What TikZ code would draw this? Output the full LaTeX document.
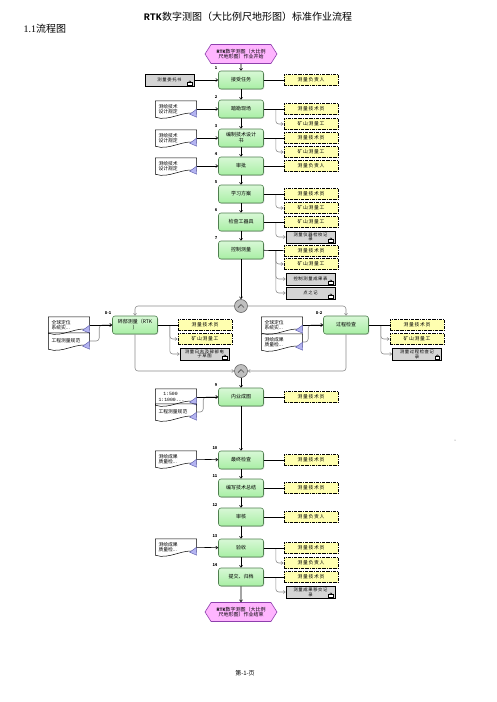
\documentclass[tikz,border=0pt]{standalone}
\usepackage{fontspec}
\setmainfont{Noto Sans CJK SC}
\newfontfamily\monob{Liberation Mono}
\newfontfamily\serifnum{Liberation Serif}
\newfontfamily\cjkwide{Noto Sans CJK SC}[LetterSpace=15]
\usepackage{tikz}
\usetikzlibrary{arrows.meta, positioning, shapes.geometric, shapes.symbols, calc, shadows}

\definecolor{stepfill}{HTML}{A8EFA4}
\definecolor{stepline}{HTML}{4F7F4F}
\definecolor{hexfill}{HTML}{FFB5FF}
\definecolor{hexline}{HTML}{8E3FAD}
\definecolor{rolefill}{HTML}{FFFFB0}
\definecolor{recfill}{HTML}{D4D4D4}
\definecolor{tripfill}{HTML}{B4B4F2}
\definecolor{tripline}{HTML}{5858A8}

\tikzset{
  stepbox/.style={rectangle, rounded corners=2.5pt, draw=stepline, line width=0.6pt,
    top color=stepfill!45, bottom color=stepfill, minimum width=45pt, minimum height=18pt,
    align=center, inner sep=1pt, font=\fontsize{5}{6}\selectfont,
    drop shadow={shadow xshift=0.8pt, shadow yshift=-0.8pt, fill=black!30}},
  rolebox/.style={rectangle, draw=black, fill=rolefill, line width=0.9pt,
    dash pattern=on 3pt off 1pt on 0.6pt off 1pt, minimum width=54pt, minimum height=11pt,
    inner sep=0.5pt, font={\cjkwide\fontsize{4.8}{5.5}\selectfont}},
  recbox/.style={rectangle, draw=black, fill=recfill, line width=0.6pt, minimum width=49pt,
    minimum height=12pt, align=center, inner sep=0.3pt, font={\cjkwide\fontsize{4.3}{4.7}\selectfont},
    drop shadow={shadow xshift=0.8pt, shadow yshift=-0.8pt, fill=black!30}},
  docbox/.style={rectangle, fill=white, minimum width=41pt, minimum height=16pt, text width=35pt,
    align=left, inner sep=1pt, font=\fontsize{4.8}{5.6}\selectfont},
  hexnode/.style={shape=signal, signal to=west and east, signal pointer angle=115, draw=hexline,
    fill=hexfill, line width=0.6pt, minimum width=72pt, minimum height=19pt, align=center,
    inner sep=0.5pt, font=\fontsize{5}{5.8}\selectfont},
  gate/.style={circle, draw=black!60, fill=black!25, line width=0.6pt, minimum size=13pt, inner sep=0pt},
  numlab/.style={font=\bfseries\fontsize{4}{4}\selectfont, inner sep=0.6pt},
  flow/.style={draw=black, line width=0.6pt, -{Straight Barb[length=2pt, width=3pt]}},
  sub/.style={draw=black!45, line width=0.6pt, rounded corners=3pt, -{Straight Barb[length=2pt, width=3pt]}},
  link/.style={draw=black, line width=0.7pt}
}

\begin{document}
\begin{tikzpicture}[x=1pt, y=-1pt]
  \useasboundingbox (0,0) rectangle (496,702);

  % page texts
  \node[font=\fontsize{10}{12}\selectfont] (title) at (248,17) {{\monob\bfseries RTK}数字测图（大比例尺地形图）标准作业流程};
  \node[font=\fontsize{10}{12}\selectfont, anchor=west] (sec) at (20,29) {{\serifnum 1.1}流程图};
  \node[font=\fontsize{6}{7}\selectfont] (foot) at (245,673) {第-1-页};

  % main column
  \node[hexnode] (start) at (241,54) {{\monob\bfseries RTK}数字测图（大比例\\尺地形图）作业开始};
  \node[stepbox, label={[numlab]north west:1}] (s1) at (241,80) {接受任务};
  \node[stepbox, label={[numlab]north west:2}] (s2) at (241,109) {踏勘现场};
  \node[stepbox, label={[numlab]north west:3}] (s3) at (241,138) {编制技术设计\\书};
  \node[stepbox, label={[numlab]north west:4}] (s4) at (241,166) {审批};
  \node[stepbox, label={[numlab]north west:5}] (s5) at (241,194) {学习方案};
  \node[stepbox, label={[numlab]north west:6}] (s6) at (241,222) {检查工器具};
  \node[stepbox, label={[numlab]north west:7}] (s7) at (241,250) {控制测量};
  \node[gate] (g1) at (241,306) {};
  \node[stepbox, label={[numlab]north west:8-1}] (s81) at (135,325) {碎部测量（RTK\\）};
  \node[stepbox, label={[numlab]north west:8-2}] (s82) at (346,325) {过程检查};
  \node[gate] (g2) at (241,371) {};
  \node[stepbox, label={[numlab]north west:9}] (s9) at (241,397) {内业成图};
  \node[stepbox, label={[numlab]north west:10}] (s10) at (241,460) {最终检查};
  \node[stepbox, label={[numlab]north west:11}] (s11) at (241,488) {编写技术总结};
  \node[stepbox, label={[numlab]north west:12}] (s12) at (241,517) {审核};
  \node[stepbox, label={[numlab]north west:13}] (s13) at (241,548) {验收};
  \node[stepbox, label={[numlab]north west:14}] (s14) at (241,577) {提交、归档};
  \node[hexnode] (end) at (241,612) {{\monob\bfseries RTK}数字测图（大比例\\尺地形图）作业结束};

  % roles and records
  \node[rolebox] (r1) at (311,80) {测量负责人};
  \node[rolebox] (r2a) at (311,109) {测量技术员};
  \node[rolebox] (r2b) at (311,124) {矿山测量工};
  \node[rolebox] (r3a) at (311,138) {测量技术员};
  \node[rolebox] (r3b) at (311,152) {矿山测量工};
  \node[rolebox] (r4) at (311,166) {测量负责人};
  \node[rolebox] (r5a) at (311,194) {测量技术员};
  \node[rolebox] (r5b) at (311,208) {矿山测量工};
  \node[rolebox] (r6) at (311,222) {矿山测量工};
  \node[recbox] (k6) at (310.5,237) {测量仪器检校记\\录};
  \node[rolebox] (r7a) at (311,251) {测量技术员};
  \node[rolebox] (r7b) at (311,264) {矿山测量工};
  \node[recbox] (k7a) at (310.5,279) {控制测量成果表};
  \node[recbox] (k7b) at (310.5,293) {点之记};
  \node[rolebox] (r81a) at (205,325) {测量技术员};
  \node[rolebox] (r81b) at (205,339) {矿山测量工};
  \node[recbox] (k81) at (204.5,354) {测量日志及碎部电\\子草图};
  \node[rolebox] (r82a) at (417,325) {测量技术员};
  \node[rolebox] (r82b) at (417,339) {矿山测量工};
  \node[recbox] (k82) at (417,354) {测量过程检查记\\录};
  \node[rolebox] (r9) at (311,397) {测量技术员};
  \node[rolebox] (r10) at (311,460) {测量技术员};
  \node[rolebox] (r11) at (311,488) {测量技术员};
  \node[rolebox] (r12) at (311,517) {测量负责人};
  \node[rolebox] (r13a) at (311,548) {测量技术员};
  \node[rolebox] (r13b) at (311,563) {测量负责人};
  \node[rolebox] (r14) at (311,577) {测量技术员};
  \node[recbox] (k14) at (310.5,592) {测量成果移交记\\录};

  % documents on the left
  \node[recbox] (w1) at (169.5,80) {测量委托书};
  \node[docbox] (d2) at (176,109) {测绘技术\\设计规定};
  \node[docbox] (d3) at (176,138) {测绘技术\\设计规定};
  \node[docbox] (d4) at (176,166) {测绘技术\\设计规定};
  \node[docbox] (d81a) at (69,325) {全球定位\\系统实...};
  \node[docbox] (d81b) at (69,341) {工程测量规范};
  \node[docbox] (d82a) at (282,325) {全球定位\\系统实...};
  \node[docbox] (d82b) at (282,342) {测绘成果\\质量检...};
  \node[docbox] (d9a) at (176,397) {\monob\ \ \ 1:500\\1:1000...};
  \node[docbox] (d9b) at (176,412) {工程测量规范};
  \node[docbox] (d10) at (176,459) {测绘成果\\质量检...};
  \node[docbox] (d13) at (176,547) {测绘成果\\质量检...};

  \foreach \d in {d2,d3,d4,d81a,d81b,d82a,d82b,d9a,d9b,d10,d13} {
    \draw[line width=0.5pt] (\d.north west) -- (\d.north east) -- ($(\d.south east)+(0,-3)$)
      .. controls ($(\d.south east)+(-12,-8)$) and ($(\d.south west)+(14,5)$) .. (\d.south west) -- cycle;
    \draw[fill=tripfill, draw=tripline, line width=0.4pt] ($(\d.south east)+(0,-8)$) -- ($(\d.south east)+(0,0)$) -- ($(\d.south east)+(-7,-3)$) -- cycle;
  }
  \foreach \k in {w1,k6,k7a,k7b,k81,k82,k14} {
    \draw[line width=0.4pt, fill=white] ($(\k.south east)+(-7,-1.5)$) rectangle ($(\k.south east)+(-2.5,-4)$);
    \draw[line width=0.4pt] ($(\k.south east)+(-6,-4)$) -- ($(\k.south east)+(-4.5,-5.5)$) -- ($(\k.south east)+(-3,-4)$);
  }

  % gateways
  \foreach \g in {g1,g2}
    \draw[line width=0.7pt, black!70] ($(\g.center)+(-3,1.5)$) -- ($(\g.center)+(0,-1.5)$) -- ($(\g.center)+(3,1.5)$);

  % flow
  \foreach \a/\b in {start/s1, s1/s2, s2/s3, s3/s4, s4/s5, s5/s6, s6/s7, s7/g1, g2/s9, s9/s10, s10/s11, s11/s12, s12/s13, s13/s14, s14/end}
    \draw[flow] (\a) -- (\b);
  \draw[sub] (g1) -| (s81);
  \draw[sub] (g1) -| (s82);
  \draw[sub] (s81) |- (g2);
  \draw[sub] (s82) |- (g2);

  % inputs
  \draw[sub] (d81b.east) -| ($(s81.west)+(-13,0)$) -- (s81.west);
  \draw[sub] (d82b.east) -| ($(s82.west)+(-15,0)$) -- (s82.west);
  \draw[sub] (d9b.east) -| ($(s9.west)+(-15,0)$) -- (s9.west);
  \foreach \d/\s in {w1/s1, d2/s2, d3/s3, d4/s4, d81a/s81, d82a/s82, d9a/s9, d10/s10, d13/s13}
    \draw[flow] (\d) -- (\s);

  % outputs
  \foreach \s/\r in {s2/r2b, s3/r3b, s5/r5b, s6/k6, s7/r7b, s7/k7a, s7/k7b, s81/r81b, s81/k81, s82/r82b, s82/k82, s13/r13b, s14/k14}
    \draw[sub] ($(\s.east)+(12,0)$) |- (\r.west);
  \foreach \s/\r in {s1/r1, s2/r2a, s3/r3a, s4/r4, s5/r5a, s6/r6, s7/r7a, s81/r81a, s82/r82a, s9/r9, s10/r10, s11/r11, s12/r12, s13/r13a, s14/r14}
    \draw[link] (\s) -- (\r);

  \fill[black!60] (455,440) circle (0.5);
\end{tikzpicture}
\end{document}
